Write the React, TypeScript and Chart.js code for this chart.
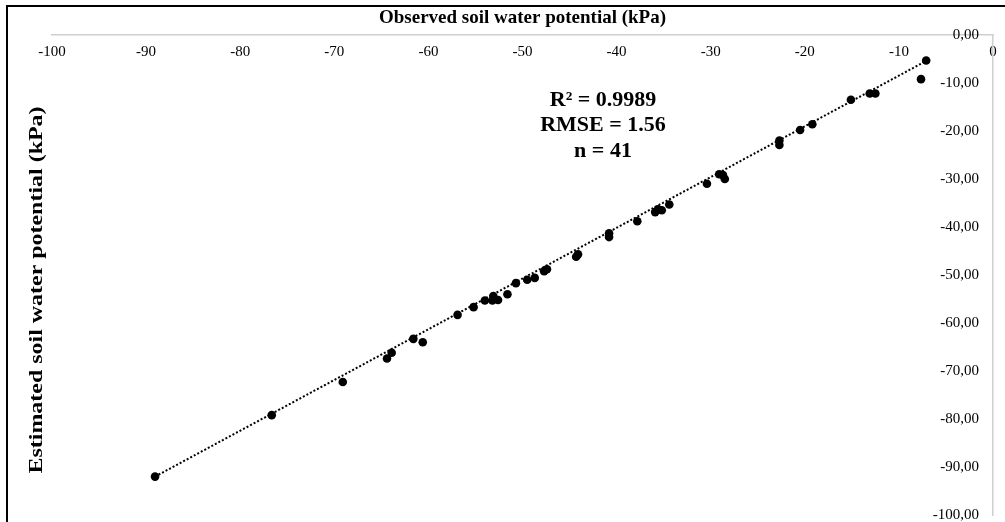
import React, { useEffect, useRef } from 'react';
import { Chart, registerables } from 'chart.js';

Chart.register(...registerables);

// Observed soil water potential (kPa)
const observed = [
  -89.05, -76.65, -69.1, -64.4, -63.9, -61.6, -60.6, -56.9, -55.2, -54.0,
  -53.1, -53.2, -52.6, -51.6, -50.7, -49.5, -48.7, -47.7, -47.4, -44.3,
  -44.1, -40.8, -40.8, -37.8, -35.9, -35.6, -35.2, -34.4, -30.4, -29.1,
  -28.7, -28.5, -22.7, -22.7, -20.5, -19.2, -15.1, -13.1, -12.5, -7.1,
  -7.65,
];
// Estimated soil water potential (kPa)
const estimated = [
  -92.0, -79.2, -72.3, -67.4, -66.2, -63.3, -64.0, -58.3, -56.7, -55.3,
  -54.4, -55.3, -55.2, -54.0, -51.7, -51.0, -50.6, -49.2, -48.8, -46.2,
  -45.7, -41.3, -42.1, -38.8, -36.9, -36.3, -36.5, -35.3, -31.0, -29.0,
  -29.2, -30.0, -22.0, -22.9, -19.8, -18.6, -13.5, -12.2, -12.2, -5.3,
  -9.2,
];
// Linear trendline end points
const trendObserved = [-89.05, -7.1];
const trendEstimated = [-92.0, -5.4];

const axisMin = -100;
const axisMax = 0;
const axisStep = 10;

const statsLines = ['R\u00B2 = 0.9989', 'RMSE = 1.56', 'n = 41'];
const xTitle = 'Observed soil water potential (kPa)';
const yTitle = 'Estimated soil water potential (kPa)';

const FONT = "'Liberation Serif', 'Times New Roman', serif";

const statsPlugin = {
  id: 'statsText',
  afterDatasetsDraw(chart: any) {
    const { ctx, chartArea } = chart;
    ctx.save();
    ctx.font = `bold 22px ${FONT}`;
    ctx.fillStyle = '#000';
    ctx.textAlign = 'center';
    ctx.textBaseline = 'middle';
    const cx = chartArea.left + 551;
    const top = chartArea.top + 65;
    statsLines.forEach((t, i) => ctx.fillText(t, cx, top + i * 25.5));
    ctx.restore();
  },
};

// Left-hand (estimated) axis title, drawn rotated and slightly elongated as in the source figure
const yTitlePlugin = {
  id: 'yTitle',
  afterDraw(chart: any) {
    const { ctx, chartArea } = chart;
    ctx.save();
    ctx.translate(chartArea.left - 15, chartArea.top + 255);
    ctx.rotate(-Math.PI / 2);
    ctx.scale(1.33, 1);
    ctx.font = `bold 18px ${FONT}`;
    ctx.fillStyle = '#000';
    ctx.textAlign = 'center';
    ctx.textBaseline = 'middle';
    ctx.fillText(yTitle, 0, 0);
    ctx.restore();
  },
};

export default function App() {
  const ref = useRef<HTMLCanvasElement | null>(null);

  useEffect(() => {
    if (!ref.current) return;
    const chart = new Chart(ref.current, {
      type: 'scatter',
      data: {
        datasets: [
          {
            type: 'scatter',
            label: 'Observed vs estimated',
            data: observed.map((x, i) => ({ x, y: estimated[i] })),
            backgroundColor: '#000',
            borderColor: '#000',
            pointRadius: 4.3,
            pointBorderWidth: 0,
            order: 1,
            xAxisID: 'x',
            yAxisID: 'y',
          } as any,
          {
            type: 'line',
            label: 'Linear trend',
            data: trendObserved.map((x, i) => ({ x, y: trendEstimated[i] })),
            borderColor: '#000',
            borderWidth: 2,
            borderDash: [2, 2],
            pointRadius: 0,
            fill: false,
            order: 2,
            xAxisID: 'x',
            yAxisID: 'y',
          } as any,
        ],
      },
      options: {
        responsive: false,
        animation: false,
        layout: { padding: { top: 0, left: 52, right: 0, bottom: 7 } },
        plugins: {
          legend: { display: false },
          tooltip: { enabled: false },
        },
        scales: {
          x: {
            type: 'linear',
            position: 'top',
            min: axisMin,
            max: axisMax,
            ticks: {
              stepSize: axisStep,
              mirror: true,
              padding: 8,
              color: '#000',
              autoSkip: false,
              maxRotation: 0,
              font: { family: FONT, size: 15 },
              callback: (v: any) => String(v),
            },
            grid: { display: false, drawTicks: false },
            border: { display: true, color: '#cfcfcf', width: 1.5 },
            title: {
              display: true,
              text: xTitle,
              color: '#000',
              font: { family: FONT, size: 19, weight: 'bold' },
              padding: { top: 7, bottom: 0 },
            },
            afterFit: (s: any) => {
              s.height = 35;
            },
          },
          y: {
            type: 'linear',
            position: 'right',
            min: axisMin,
            max: axisMax,
            ticks: {
              stepSize: axisStep,
              mirror: true,
              padding: -14,
              color: '#000',
              font: { family: FONT, size: 15 },
              callback: (v: any) => Number(v).toFixed(2).replace('.', ','),
            },
            grid: { display: false, drawTicks: false },
            border: { display: true, color: '#cfcfcf', width: 1.5 },
            afterFit: (s: any) => {
              s.width = 12;
            },
          },
        },
      } as any,
      plugins: [statsPlugin, yTitlePlugin],
    });
    return () => chart.destroy();
  }, []);

  return (
    <div
      style={{
        position: 'absolute',
        left: 0,
        top: 0,
        width: 1005,
        height: 522,
        background: '#fff',
        overflow: 'hidden',
      }}
    >
      <canvas ref={ref} width={1005} height={522} style={{ display: 'block' }} />
      <div
        style={{
          position: 'absolute',
          left: 6,
          top: 5,
          width: 1005,
          height: 522,
          borderTop: '2px solid #000',
          borderLeft: '2px solid #000',
          pointerEvents: 'none',
        }}
      />
    </div>
  );
}
